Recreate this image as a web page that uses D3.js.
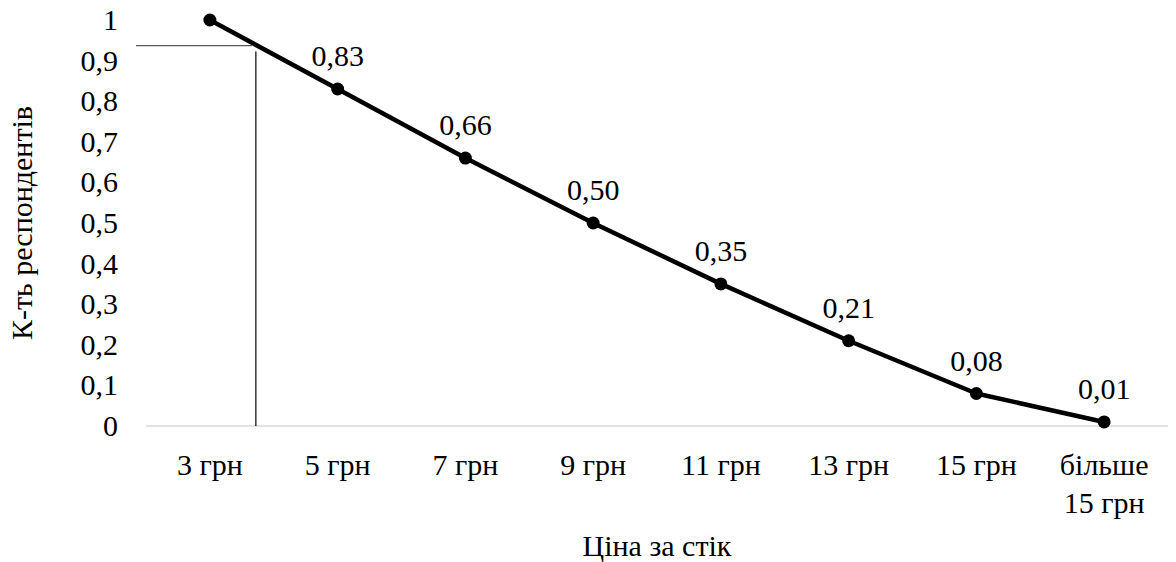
<!DOCTYPE html>
<html>
<head>
<meta charset="utf-8">
<script src="https://cdn.jsdelivr.net/npm/d3@7"></script>
</head>
<body style="margin:0; font-family: 'Liberation Serif'">
<div id="chart"></div>
<script>
// data
const categories = ['3 грн', '5 грн', '7 грн', '9 грн', '11 грн', '13 грн', '15 грн', 'більше|15 грн'];
const shares = [1, 0.83, 0.66, 0.50, 0.35, 0.21, 0.08, 0.01];
const dataLabels = ['', '0,83', '0,66', '0,50', '0,35', '0,21', '0,08', '0,01'];
const yTicks = [0, 0.1, 0.2, 0.3, 0.4, 0.5, 0.6, 0.7, 0.8, 0.9, 1];
const markShare = 0.937;   // thin guide line level
const markIndex = 0.36;    // guide line position, in category steps from "3 грн"

const width = 1176, height = 562;
const margin = { top: 20, right: 8, bottom: 136, left: 146 };

const svg = d3.select('#chart').append('svg')
  .attr('width', width)
  .attr('height', height)
  .attr('font-family', 'Liberation Serif')
  .attr('font-size', 30);

const x = d3.scalePoint()
  .domain(categories)
  .range([margin.left, width - margin.right])
  .padding(0.5);

const y = d3.scaleLinear()
  .domain([0, 1])
  .range([height - margin.bottom, margin.top]);

const step = x.step();

// baseline
svg.append('line')
  .attr('x1', margin.left).attr('x2', width - margin.right)
  .attr('y1', y(0)).attr('y2', y(0))
  .attr('stroke', '#d9d9d9').attr('stroke-width', 1.5);

// y tick labels
yTicks.forEach(d => {
  svg.append('text')
    .attr('font-family', 'Liberation Serif')
    .attr('font-size', 30)
    .attr('x', 118)
    .attr('y', y(d) + 10)
    .attr('text-anchor', 'end')
    .text(d === 0 || d === 1 ? String(d) : d3.format('.1f')(d).replace('.', ','));
});

// x tick labels
categories.forEach(d => {
  d.split('|').forEach((p, i) => {
    svg.append('text')
      .attr('font-family', 'Liberation Serif')
      .attr('font-size', 30)
      .attr('x', x(d))
      .attr('y', 475 + i * 38)
      .attr('text-anchor', 'middle')
      .text(p);
  });
});

// guide lines
const markX = x(categories[0]) + markIndex * step;
svg.append('line')
  .attr('x1', 136).attr('x2', markX - 4)
  .attr('y1', y(markShare)).attr('y2', y(markShare))
  .attr('stroke', '#595959').attr('stroke-width', 1.2);
svg.append('line')
  .attr('x1', markX).attr('x2', markX)
  .attr('y1', y(markShare) + 6).attr('y2', y(0))
  .attr('stroke', '#000').attr('stroke-width', 1.2);

// series line
const line = d3.line()
  .x((d, i) => x(categories[i]))
  .y(d => y(d));

svg.append('path')
  .datum(shares)
  .attr('d', line)
  .attr('fill', 'none')
  .attr('stroke', '#000')
  .attr('stroke-width', 4.5)
  .attr('stroke-linejoin', 'round');

svg.selectAll('.dot')
  .data(shares)
  .enter().append('circle')
  .attr('class', 'dot')
  .attr('cx', (d, i) => x(categories[i]))
  .attr('cy', d => y(d))
  .attr('r', 6.5)
  .attr('fill', '#000');

// data labels
shares.forEach((d, i) => {
  if (!dataLabels[i]) return;
  svg.append('text')
    .attr('font-family', 'Liberation Serif')
    .attr('font-size', 30)
    .attr('x', x(categories[i]))
    .attr('y', y(d) - 23)
    .attr('text-anchor', 'middle')
    .text(dataLabels[i]);
});

// axis titles
svg.append('text')
  .attr('font-family', 'Liberation Serif')
  .attr('font-size', 30)
  .attr('x', 657)
  .attr('y', 556)
  .attr('text-anchor', 'middle')
  .text('Ціна за стік');

svg.append('text')
  .attr('font-family', 'Liberation Serif')
  .attr('font-size', 30)
  .attr('transform', `translate(32, ${(y(0) + y(1)) / 2}) rotate(-90)`)
  .attr('text-anchor', 'middle')
  .text('К-ть респондентів');
</script>
</body>
</html>
